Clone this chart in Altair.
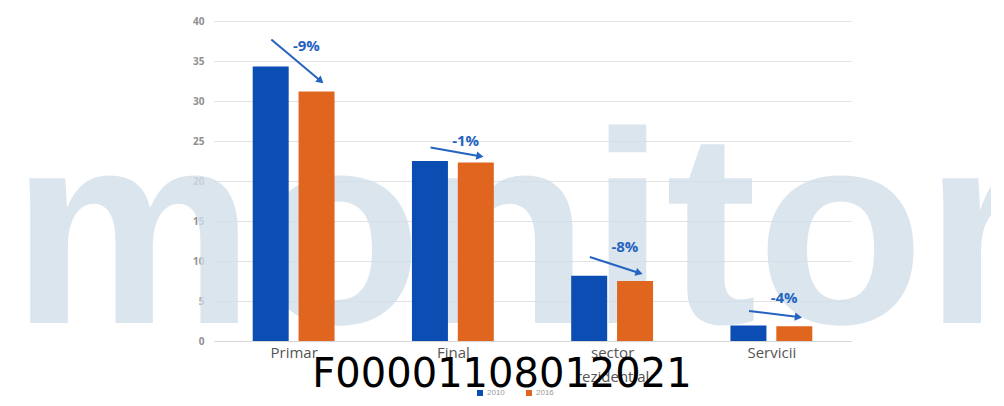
import math
import altair as alt
import pandas as pd

# ---- data ----
categories = ["Primar", "Final", "sector\nrezidential", "Servicii"]
years = ["2010", "2016"]
values_2010 = [34.3, 22.5, 8.15, 1.93]
values_2016 = [31.2, 22.3, 7.5, 1.85]
change_labels = ["-9%", "-1%", "-8%", "-4%"]
arrow_start = [37.7, 24.2, 10.5, 3.75]
arrow_end = [32.5, 23.1, 8.5, 3.0]
label_level = [36.9, 25.0, 11.75, 5.4]
y_ticks = [0, 5, 10, 15, 20, 25, 30, 35, 40]
watermark = "monitor"
stamp = "F00001108012021"

W, H = 637, 320
BLUE, ORANGE, ANNOT = "#0b4db3", "#e0661f", "#2563c0"

rows = []
for i, c in enumerate(categories):
    rows.append({"idx": i, "year": years[0], "value": values_2010[i]})
    rows.append({"idx": i, "year": years[1], "value": values_2016[i]})
bars_df = pd.DataFrame(rows)

px_x = W / 4.0
px_y = H / 40.0
ann = pd.DataFrame({
    "idx": list(range(len(categories))),
    "ys": arrow_start,
    "ye": arrow_end,
    "ly": label_level,
    "lab": change_labels,
})
ann["ang"] = [math.degrees(math.atan2((s - e) * px_y, 0.31 * px_x)) for s, e in zip(arrow_start, arrow_end)]

label_js = "[" + ",".join("'" + c.replace("\n", "\\n") + "'" for c in categories) + "]"

xscale = alt.Scale(domain=[-0.5, 3.5], nice=False, zero=False)
yscale = alt.Scale(domain=[0, 40], nice=False)

xaxis = alt.Axis(
    values=[0, 1, 2, 3], labelExpr="split(" + label_js + "[datum.value], '\\n')",
    grid=False, ticks=False, domain=True, domainColor="#d6d6d6", title=None,
    labelFontSize=15, labelColor="#555555", labelFont="Open Sans", labelPadding=4,
    labelLineHeight=24,
)
yaxis = alt.Axis(
    values=y_ticks, grid=True, gridColor="#e2e2e2", domain=False, ticks=False, title=None,
    labelFontSize=10, labelColor="#8f8f8f", labelFont="Open Sans", labelFontWeight="bold",
    labelPadding=10, labelOverlap=False,
)

wm = alt.Chart(pd.DataFrame({"t": [watermark]})).mark_text(
    font="Liberation Sans", fontWeight="bold", fontSize=274, color="#d3dfeb",
    opacity=0.8, align="center", baseline="alphabetic",
).encode(x=alt.value(307), y=alt.value(302), text="t:N")

bars = alt.Chart(bars_df).transform_calculate(
    x0="datum.idx + (datum.year == '2010' ? -0.257 : 0.031)",
    x1="datum.idx + (datum.year == '2010' ? -0.031 : 0.257)",
).mark_bar().encode(
    x=alt.X("x0:Q", scale=xscale, axis=xaxis),
    x2="x1:Q",
    y=alt.Y("value:Q", scale=yscale, axis=yaxis),
    y2=alt.datum(0),
    color=alt.Color("year:N", scale=alt.Scale(domain=years, range=[BLUE, ORANGE]),
                    legend=alt.Legend(title=None, orient="none", legendX=262, legendY=368,
                                      direction="horizontal", symbolType="square",
                                      symbolSize=36, symbolStrokeWidth=0, labelFontSize=8,
                                      labelColor="#999999", columnPadding=20, labelOffset=3)),
)

arrows = alt.Chart(ann).transform_calculate(
    xa="datum.idx - 0.14", xb="datum.idx + 0.17"
).mark_rule(color=ANNOT, strokeWidth=2).encode(
    x=alt.X("xa:Q", scale=xscale, axis=xaxis), x2="xb:Q",
    y=alt.Y("ys:Q", scale=yscale, axis=yaxis), y2="ye:Q",
)

heads = alt.Chart(ann).transform_calculate(xb="datum.idx + 0.17").mark_point(
    shape="triangle-right", filled=True, color=ANNOT, size=70, opacity=1
).encode(
    x=alt.X("xb:Q", scale=xscale, axis=xaxis), y=alt.Y("ye:Q", scale=yscale, axis=yaxis),
    angle=alt.Angle("ang:Q", scale=None),
)

labels = alt.Chart(ann).transform_calculate(xl="datum.idx + 0.08").mark_text(
    color=ANNOT, fontWeight="bold", fontSize=15, font="Open Sans", baseline="middle"
).encode(
    x=alt.X("xl:Q", scale=xscale, axis=xaxis), y=alt.Y("ly:Q", scale=yscale, axis=yaxis),
    text="lab:N",
)

stamp_txt = alt.Chart(pd.DataFrame({"t": [stamp]})).mark_text(
    font="DejaVu Sans", fontSize=40, color="#000000", align="center", baseline="alphabetic"
).encode(x=alt.value(288), y=alt.value(366), text="t:N")

chart = alt.layer(wm, bars, arrows, heads, labels, stamp_txt).properties(
    width=W, height=H,
    padding={"left": 206, "top": 13, "right": 140, "bottom": 55},
    autosize=alt.AutoSizeParams(type="none"),
).configure_view(stroke=None)

chart.save("out.html", embed_options={"renderer": "svg", "actions": False})
